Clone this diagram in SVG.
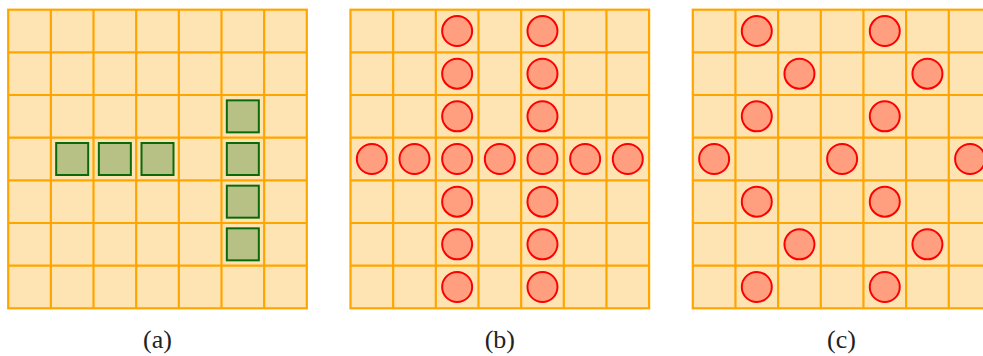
<svg xmlns="http://www.w3.org/2000/svg" width="983" height="356" viewBox="0 0 983 356">
<defs>
<style>
.cell{fill:#FFE4B3;stroke:#FFA500;stroke-width:2.2}
.grid{fill:none;stroke:#FFA500;stroke-width:2.2}
.blk{fill:#B8C185;stroke:#0A6A0A;stroke-width:2}
.pc{fill:#FF9F7F;stroke:#FF0000;stroke-width:2}
.lbl{font-family:"Liberation Serif","DejaVu Serif",serif;font-size:26px;fill:#222;text-anchor:middle}
</style>
<circle id="c" r="15" class="pc"/>
<rect id="s" x="-16" y="-16" width="32" height="32" class="blk"/>
</defs>

<g id="board-a" transform="translate(8.2,9.7)">
<rect x="0" y="0" width="298.6" height="298.6" class="cell"/>
<path class="grid" d="M42.66 0V298.6M85.32 0V298.6M127.98 0V298.6M170.64 0V298.6M213.3 0V298.6M255.96 0V298.6M0 42.66H298.6M0 85.32H298.6M0 127.98H298.6M0 170.64H298.6M0 213.3H298.6M0 255.96H298.6"/>
<g id="pieces-a">
<use href="#s" x="63.99" y="149.31"/>
<use href="#s" x="106.65" y="149.31"/>
<use href="#s" x="149.31" y="149.31"/>
<use href="#s" x="234.63" y="106.65"/>
<use href="#s" x="234.63" y="149.31"/>
<use href="#s" x="234.63" y="191.97"/>
<use href="#s" x="234.63" y="234.63"/>
</g>
</g>

<g id="board-b" transform="translate(350.5,9.7)">
<rect x="0" y="0" width="298.6" height="298.6" class="cell"/>
<path class="grid" d="M42.66 0V298.6M85.32 0V298.6M127.98 0V298.6M170.64 0V298.6M213.3 0V298.6M255.96 0V298.6M0 42.66H298.6M0 85.32H298.6M0 127.98H298.6M0 170.64H298.6M0 213.3H298.6M0 255.96H298.6"/>
<g id="pieces-b">
<use href="#c" x="106.65" y="21.33"/><use href="#c" x="191.97" y="21.33"/>
<use href="#c" x="106.65" y="63.99"/><use href="#c" x="191.97" y="63.99"/>
<use href="#c" x="106.65" y="106.65"/><use href="#c" x="191.97" y="106.65"/>
<use href="#c" x="21.33" y="149.31"/><use href="#c" x="63.99" y="149.31"/><use href="#c" x="106.65" y="149.31"/><use href="#c" x="149.31" y="149.31"/><use href="#c" x="191.97" y="149.31"/><use href="#c" x="234.63" y="149.31"/><use href="#c" x="277.29" y="149.31"/>
<use href="#c" x="106.65" y="191.97"/><use href="#c" x="191.97" y="191.97"/>
<use href="#c" x="106.65" y="234.63"/><use href="#c" x="191.97" y="234.63"/>
<use href="#c" x="106.65" y="277.29"/><use href="#c" x="191.97" y="277.29"/>
</g>
</g>

<g id="board-c" transform="translate(692.8,9.7)">
<rect x="0" y="0" width="298.6" height="298.6" class="cell"/>
<path class="grid" d="M42.66 0V298.6M85.32 0V298.6M127.98 0V298.6M170.64 0V298.6M213.3 0V298.6M255.96 0V298.6M0 42.66H298.6M0 85.32H298.6M0 127.98H298.6M0 170.64H298.6M0 213.3H298.6M0 255.96H298.6"/>
<g id="pieces-c">
<use href="#c" x="63.99" y="21.33"/><use href="#c" x="191.97" y="21.33"/>
<use href="#c" x="106.65" y="63.99"/><use href="#c" x="234.63" y="63.99"/>
<use href="#c" x="63.99" y="106.65"/><use href="#c" x="191.97" y="106.65"/>
<use href="#c" x="21.33" y="149.31"/><use href="#c" x="149.31" y="149.31"/><use href="#c" x="277.29" y="149.31"/>
<use href="#c" x="63.99" y="191.97"/><use href="#c" x="191.97" y="191.97"/>
<use href="#c" x="106.65" y="234.63"/><use href="#c" x="234.63" y="234.63"/>
<use href="#c" x="63.99" y="277.29"/><use href="#c" x="191.97" y="277.29"/>
</g>
</g>

<g id="labels">
<text class="lbl" x="157.5" y="348">(a)</text>
<text class="lbl" x="499.8" y="348">(b)</text>
<text class="lbl" x="841.5" y="348">(c)</text>
</g>
</svg>
